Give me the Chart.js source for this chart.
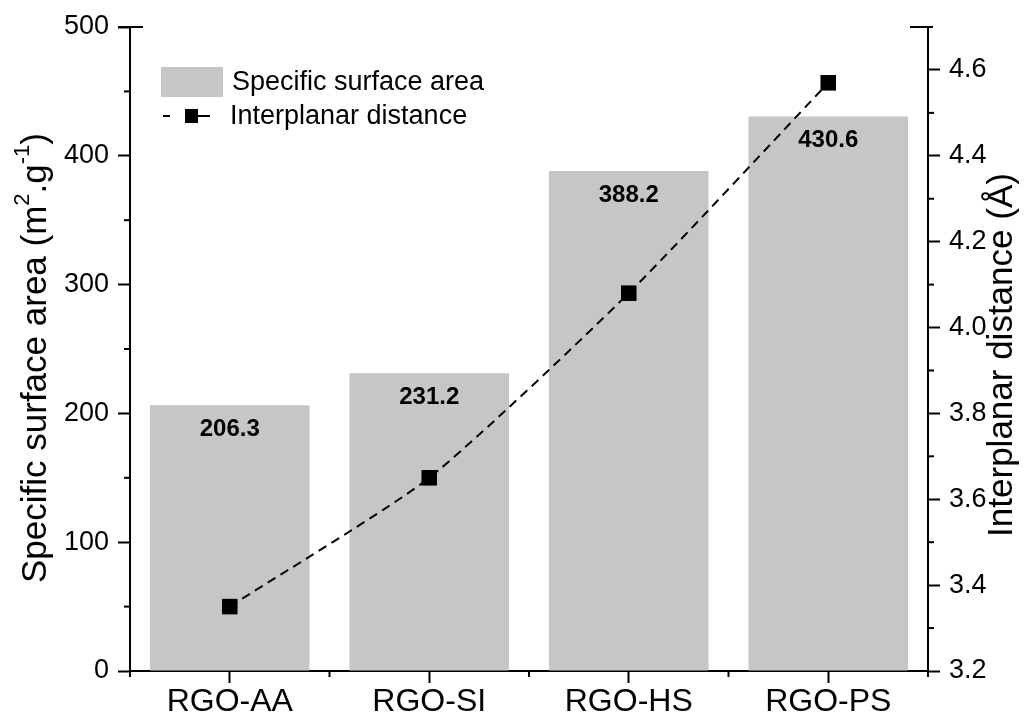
<!DOCTYPE html>
<html><head><meta charset="utf-8">
<script src="https://cdn.jsdelivr.net/npm/chart.js@4"></script>
<style>html,body{margin:0;padding:0;background:#fff}#wrap{width:1030px;height:720px}</style>
</head><body><div id="wrap"><canvas id="c" width="1030" height="720"></canvas></div>
<script>
const categories = ['RGO-AA', 'RGO-SI', 'RGO-HS', 'RGO-PS'];
const surfaceArea = [206.3, 231.2, 388.2, 430.6];
const interplanar = [3.35, 3.65, 4.08, 4.57];
const leftTicks = [0, 100, 200, 300, 400, 500];
const leftMinor = [50, 150, 250, 350, 450];
const rightTicks = [3.2, 3.4, 3.6, 3.8, 4.0, 4.2, 4.4, 4.6];
const rightMinor = [3.3, 3.5, 3.7, 3.9, 4.1, 4.3, 4.5];
const legendLabels = ['Specific surface area', 'Interplanar distance'];

const FONT = '"Liberation Sans", Arial, sans-serif';
const BAR_COLOR = '#c6c6c6';

function line(ctx, x1, y1, x2, y2) { ctx.beginPath(); ctx.moveTo(x1, y1); ctx.lineTo(x2, y2); ctx.stroke(); }

function drawRich(ctx, parts, cx, cy, angle, size) {
  ctx.save();
  ctx.translate(cx, cy);
  ctx.rotate(angle);
  ctx.textBaseline = 'middle';
  ctx.textAlign = 'left';
  ctx.fillStyle = '#000';
  let total = 0;
  parts.forEach(p => {
    ctx.font = (p.sup ? Math.round(size * 0.62) : size) + 'px ' + FONT;
    p.w = ctx.measureText(p.t).width;
    total += p.w;
  });
  let xx = -total / 2;
  parts.forEach(p => {
    ctx.font = (p.sup ? Math.round(size * 0.62) : size) + 'px ' + FONT;
    ctx.fillText(p.t, xx, p.sup ? -size * 0.36 : 0);
    xx += p.w;
  });
  ctx.restore();
}

const custom = {
  id: 'custom',
  afterDraw(chart) {
    const ctx = chart.ctx;
    const { left, right, top, bottom } = chart.chartArea;
    const y = chart.scales.y, y1 = chart.scales.y1, x = chart.scales.x;
    ctx.save();
    ctx.strokeStyle = '#000';
    ctx.lineWidth = 2;
    leftMinor.forEach(v => { const p = y.getPixelForValue(v); line(ctx, left - 6, p, left, p); });
    rightMinor.forEach(v => { const p = y1.getPixelForValue(v); line(ctx, right, p, right + 6, p); });
    for (let i = 0; i <= categories.length; i++) {
      const p = x.getPixelForValue(i - 0.5);
      line(ctx, p, bottom, p, bottom + 6);
    }
    // short caps at the top ends of the vertical axes
    line(ctx, left - 12, top, left + 13, top);
    line(ctx, right - 18, top, right + 5, top);
    // value labels
    ctx.fillStyle = '#000';
    ctx.font = 'bold 24px ' + FONT;
    ctx.textAlign = 'center';
    ctx.textBaseline = 'middle';
    const meta = chart.getDatasetMeta(1);
    meta.data.forEach((el, i) => {
      ctx.fillText(surfaceArea[i].toFixed(1), el.x, el.y + 24);
    });
    // legend
    ctx.fillStyle = BAR_COLOR;
    ctx.fillRect(left + 31, top + 40, 62, 30);
    ctx.fillStyle = '#000';
    ctx.font = '27px ' + FONT;
    ctx.textAlign = 'left';
    ctx.fillText(legendLabels[0], left + 102, top + 56);
    ctx.fillText(legendLabels[1], left + 100, top + 90);
    ctx.lineWidth = 2;
    line(ctx, left + 33, top + 89, left + 40, top + 89);
    line(ctx, left + 68, top + 89, left + 80, top + 89);
    ctx.fillRect(left + 55, top + 82, 13, 14);
    ctx.restore();
    // axis titles
    drawRich(ctx, [{ t: 'Specific surface area (m' }, { t: '2', sup: true }, { t: '.g' }, { t: '-1', sup: true }, { t: ')' }], 36, 358, -Math.PI / 2, 35);
    drawRich(ctx, [{ t: 'Interplanar distance (Å)' }], 1002, 355, -Math.PI / 2, 35);
  }
};

new Chart(document.getElementById('c'), {
  data: {
    labels: categories,
    datasets: [
      {
        type: 'line', label: legendLabels[1], data: interplanar, yAxisID: 'y1', order: 1,
        borderColor: '#000', borderWidth: 2, borderDash: [9, 6], tension: 0.2,
        pointStyle: 'rect', pointRadius: 11, pointBackgroundColor: '#000', pointBorderWidth: 0,
        clip: false
      },
      {
        type: 'bar', label: legendLabels[0], data: surfaceArea, yAxisID: 'y', order: 2,
        backgroundColor: BAR_COLOR, barPercentage: 0.8, categoryPercentage: 1.0
      }
    ]
  },
  options: {
    responsive: false, animation: false, devicePixelRatio: 1,
    layout: { padding: { top: 27, left: 0, right: 0, bottom: 0 } },
    plugins: { legend: { display: false }, tooltip: { enabled: false } },
    scales: {
      x: {
        type: 'category', offset: true,
        grid: { display: true, drawOnChartArea: false, offset: false, tickLength: 12, tickColor: '#000', tickWidth: 2 },
        border: { color: '#000', width: 2 },
        ticks: { color: '#000', font: { family: FONT, size: 32 }, padding: 0, maxRotation: 0 },
        afterFit: s => { s.height = 49; }
      },
      y: {
        position: 'left', min: 0, max: 500,
        afterBuildTicks: s => { s.ticks = leftTicks.map(v => ({ value: v })); },
        grid: { display: true, drawOnChartArea: false, tickLength: 12, tickColor: '#000', tickWidth: 2 },
        border: { color: '#000', width: 2 },
        ticks: { color: '#000', font: { family: FONT, size: 27 }, padding: 9, callback: v => String(v) },
        afterFit: s => { s.width = 130; }
      },
      y1: {
        position: 'right', min: 3.2, max: 4.7,
        afterBuildTicks: s => { s.ticks = rightTicks.map(v => ({ value: v })); },
        grid: { display: true, drawOnChartArea: false, tickLength: 12, tickColor: '#000', tickWidth: 2 },
        border: { color: '#000', width: 2 },
        ticks: { color: '#000', font: { family: FONT, size: 27 }, padding: 9, callback: v => Number(v).toFixed(1) },
        afterFit: s => { s.width = 102; }
      }
    }
  },
  plugins: [custom]
});
</script>
</body></html>
